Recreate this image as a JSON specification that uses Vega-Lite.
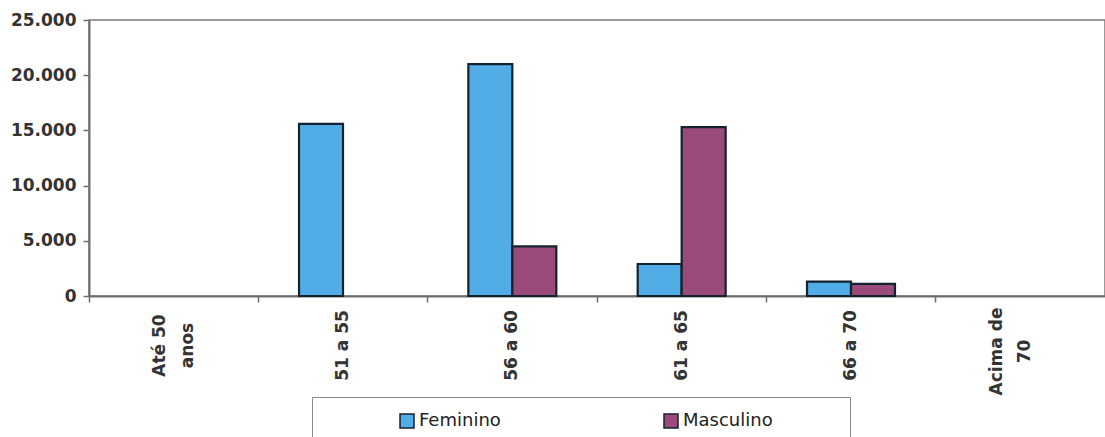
{
  "$schema": "https://vega.github.io/schema/vega-lite/v6.json",
  "autosize": "none",
  "width": 1016,
  "height": 276,
  "padding": {"left": 89, "top": 20, "right": 0, "bottom": 141},
  "background": "white",
  "config": {
    "font": "DejaVu Sans",
    "view": {"stroke": "#7a7a7a", "strokeWidth": 1.5},
    "axis": {"grid": false, "domainColor": "#6e6e6e", "domainWidth": 2, "tickColor": "#6e6e6e", "tickWidth": 1.5}
  },
  "data": {
    "values": [
      {"faixa": "Até 50 anos", "sexo": "Feminino", "total": 0},
      {"faixa": "Até 50 anos", "sexo": "Masculino", "total": 0},
      {"faixa": "51 a 55", "sexo": "Feminino", "total": 15600},
      {"faixa": "51 a 55", "sexo": "Masculino", "total": 0},
      {"faixa": "56 a 60", "sexo": "Feminino", "total": 21000},
      {"faixa": "56 a 60", "sexo": "Masculino", "total": 4500},
      {"faixa": "61 a 65", "sexo": "Feminino", "total": 2900},
      {"faixa": "61 a 65", "sexo": "Masculino", "total": 15300},
      {"faixa": "66 a 70", "sexo": "Feminino", "total": 1300},
      {"faixa": "66 a 70", "sexo": "Masculino", "total": 1100},
      {"faixa": "Acima de 70", "sexo": "Feminino", "total": 0},
      {"faixa": "Acima de 70", "sexo": "Masculino", "total": 0}
    ]
  },
  "mark": {"type": "bar", "stroke": "#13222f", "strokeWidth": 2.2},
  "encoding": {
    "x": {
      "field": "faixa",
      "type": "nominal",
      "sort": ["Até 50 anos", "51 a 55", "56 a 60", "61 a 65", "66 a 70", "Acima de 70"],
      "scale": {"paddingInner": 0, "paddingOuter": 0},
      "axis": {
        "title": null,
        "bandPosition": 0,
        "tickSize": 6,
        "labelAngle": -90,
        "labelAlign": "center",
        "labelBaseline": "middle",
        "labelPadding": {
          "condition": {"test": "datum.value == 'Acima de 70'", "value": 49},
          "value": 43
        },
        "labelOffset": {
          "condition": [
            {"test": "datum.value == 'Até 50 anos'", "value": -14},
            {"test": "datum.value == 'Acima de 70'", "value": -23}
          ],
          "value": 0
        },
        "labelFontSize": 17,
        "labelFontWeight": "bold",
        "labelColor": "#333333",
        "labelLineHeight": 28,
        "labelExpr": "datum.label == 'Até 50 anos' ? ['Até 50', 'anos'] : datum.label == 'Acima de 70' ? ['Acima de', '70'] : datum.label"
      }
    },
    "xOffset": {
      "field": "sexo",
      "type": "nominal",
      "scale": {"paddingInner": 0, "paddingOuter": 0.925}
    },
    "y": {
      "field": "total",
      "type": "quantitative",
      "scale": {"domain": [0, 25000], "nice": false},
      "axis": {
        "title": null,
        "values": [0, 5000, 10000, 15000, 20000, 25000],
        "tickSize": 6,
        "labelPadding": 7,
        "labelFontSize": 17,
        "labelFontWeight": "bold",
        "labelColor": "#333333",
        "labelExpr": "replace(format(datum.value, ','), ',', '.')"
      }
    },
    "strokeOpacity": {
      "condition": {"test": "datum.total == 0", "value": 0},
      "value": 1
    },
    "color": {
      "field": "sexo",
      "type": "nominal",
      "scale": {"domain": ["Feminino", "Masculino"], "range": ["#52ace6", "#9a4b7a"]},
      "legend": {
        "title": " ",
        "titleOrient": "right",
        "titlePadding": 62,
        "orient": "none",
        "legendX": 223,
        "legendY": 377,
        "direction": "horizontal",
        "columns": 2,
        "columnPadding": 90,
        "padding": 15,
        "symbolOffset": 71,
        "symbolType": "square",
        "symbolSize": 196,
        "symbolStrokeColor": "#13222f",
        "symbolStrokeWidth": 1.5,
        "labelFont": "DejaVu Sans",
        "labelFontSize": 18,
        "labelColor": "#222222",
        "labelOffset": 3,
        "fillColor": "white",
        "strokeColor": "#8a8a8a"
      }
    }
  }
}
